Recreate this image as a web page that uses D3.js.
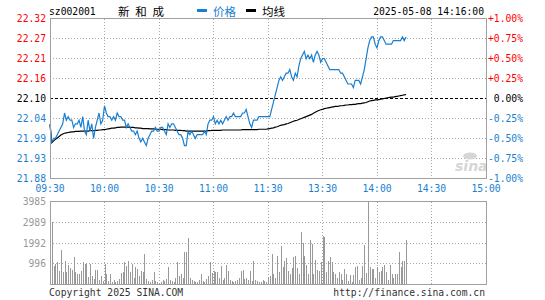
<!DOCTYPE html>
<html><head><meta charset="utf-8">
<script src="https://cdn.jsdelivr.net/npm/d3@7"></script>
<style>
body{margin:0;background:#fff}
svg{display:block}
text{font-family:"DejaVu Sans Mono","Liberation Mono",monospace;font-size:9.7px}
</style>
</head><body><svg id="c" width="545" height="300"></svg>
<script>
const code = "sz002001";
const stockName = "新 和 成";
const stamp = "2025-05-08 14:16:00";
const preClose = 22.10;
const price = [
22.03,21.98,21.99,21.99,22.00,22.01,22.02,22.03,22.06,22.04,
22.05,22.04,22.04,22.02,22.03,22.03,22.04,22.02,22.05,22.01,
22.00,22.04,22.01,22.03,21.99,22.02,22.04,22.06,22.03,22.04,
22.08,22.06,22.05,22.05,22.04,22.05,22.04,22.06,22.05,22.05,
22.04,22.04,22.02,22.03,22.02,22.01,22.01,22.00,22.01,21.99,
21.98,21.99,21.98,21.97,21.99,22.00,22.01,22.01,22.02,22.01,
22.01,22.02,22.02,22.01,22.00,22.03,22.02,22.03,22.03,22.02,
22.01,22.00,22.00,21.99,21.97,21.97,22.01,22.00,22.01,22.00,
21.99,22.00,22.00,22.00,22.00,22.01,22.00,22.03,22.04,22.04,
22.05,22.03,22.04,22.03,22.04,22.03,22.04,22.05,22.04,22.05,
22.05,22.06,22.05,22.05,22.05,22.05,22.06,22.06,22.07,22.05,
22.03,22.02,22.04,22.04,22.04,22.05,22.05,22.05,22.05,22.05,
22.05,22.05,22.07,22.09,22.11,22.13,22.15,22.16,22.15,22.16,
22.17,22.17,22.18,22.16,22.15,22.17,22.16,22.19,22.21,22.22,
22.23,22.21,22.22,22.21,22.22,22.20,22.22,22.23,22.22,22.20,
22.21,22.21,22.20,22.19,22.18,22.18,22.18,22.18,22.18,22.18,
22.17,22.17,22.16,22.15,22.14,22.14,22.14,22.13,22.15,22.15,
22.15,22.14,22.16,22.18,22.21,22.24,22.26,22.27,22.27,22.25,
22.24,22.26,22.27,22.27,22.26,22.25,22.25,22.25,22.25,22.26,
22.26,22.26,22.26,22.26,22.27,22.26,22.27];
const avg = [
22.028,21.978,21.983,21.987,21.991,21.995,21.999,22.002,22.004,22.005,
22.006,22.007,22.008,22.008,22.009,22.009,22.009,22.010,22.010,22.010,
22.010,22.010,22.011,22.011,22.011,22.012,22.012,22.013,22.013,22.014,
22.014,22.015,22.016,22.017,22.018,22.018,22.019,22.020,22.020,22.021,
22.021,22.021,22.021,22.021,22.020,22.020,22.020,22.019,22.019,22.018,
22.018,22.017,22.017,22.017,22.017,22.016,22.016,22.016,22.015,22.015,
22.015,22.015,22.014,22.014,22.014,22.013,22.013,22.013,22.013,22.012,
22.012,22.012,22.012,22.011,22.011,22.010,22.010,22.010,22.010,22.010,
22.010,22.010,22.010,22.010,22.010,22.010,22.010,22.011,22.011,22.012,
22.012,22.012,22.012,22.012,22.012,22.013,22.013,22.013,22.013,22.013,
22.013,22.013,22.013,22.013,22.013,22.013,22.014,22.014,22.014,22.014,
22.014,22.014,22.014,22.014,22.014,22.015,22.015,22.015,22.015,22.015,
22.016,22.017,22.018,22.019,22.021,22.022,22.024,22.026,22.027,22.028,
22.030,22.031,22.033,22.035,22.037,22.039,22.040,22.042,22.044,22.046,
22.048,22.050,22.052,22.054,22.056,22.059,22.062,22.065,22.067,22.069,
22.070,22.072,22.073,22.074,22.075,22.076,22.077,22.078,22.078,22.079,
22.080,22.080,22.081,22.082,22.082,22.083,22.083,22.084,22.084,22.085,
22.086,22.086,22.087,22.088,22.089,22.091,22.093,22.094,22.095,22.096,
22.096,22.097,22.098,22.099,22.100,22.101,22.102,22.103,22.104,22.104,
22.105,22.106,22.107,22.108,22.109,22.110,22.111];
const volume = [
420,3020,880,990,1070,670,1680,590,1150,620,
940,780,720,1310,620,510,500,670,1070,990,
1020,380,990,430,250,720,720,200,430,150,
990,510,150,500,120,200,100,150,250,560,
590,1070,910,1150,620,990,300,830,750,400,
670,590,1470,250,150,120,200,590,150,100,
80,120,200,150,250,830,200,150,100,300,
1100,400,510,300,1580,1550,2220,300,200,150,
120,100,200,510,150,100,250,400,1070,560,
670,620,590,300,910,200,300,940,670,200,
150,100,150,200,300,670,720,250,300,200,
670,150,1140,200,150,100,120,200,150,100,
300,400,1470,510,300,1390,590,1870,830,1150,
1260,670,510,780,1310,1390,780,510,2540,2000,
1390,940,510,2160,1950,510,1200,720,670,1100,
2320,2270,620,1150,1310,1070,590,510,300,590,
510,200,750,510,150,460,100,460,830,910,
200,300,910,1900,560,3985,830,750,750,300,
830,620,670,830,940,590,200,940,510,300,
510,510,1550,830,1150,1150,2160];
const priceLabels = ["22.32","22.27","22.21","22.16","22.10","22.04","21.99","21.93","21.88"];
const pctSteps = [1,0.75,0.5,0.25,0,-0.25,-0.5,-0.75,-1];
const pctLabels = ["+1.00%","+0.75%","+0.50%","+0.25%","0.00%","-0.25%","-0.50%","-0.75%","-1.00%"];
const timeMinutes = [0,30,60,90,120,150,180,210,240];
const timeLabels = ["09:30","10:00","10:30","11:00","11:30","13:30","14:00","14:30","15:00"];
const volTicks = [3985,2989,1992,996];
const volMax = 3985;
const legendNames = ["价格","均线"];

const BLUE = "#1a7fd0", RED = "#ff0000", GRID = "#a8a8a8", BORDER = "#a0a0a0";
const L = 50, R = 486, T = 18.5, B = 178.5, VT = 201.5, VB = 284.5;
const svg = d3.select("#c");
const x = d3.scaleLinear().domain([0, 240]).range([L, R]);
const y = d3.scaleLinear().domain([preClose*0.99, preClose*1.01]).range([B, T]);
const yv = d3.scaleLinear().domain([0, volMax]).range([VB, VT]);

// header
svg.append("text").attr("x", 49).attr("y", 15).attr("fill", "#000").text(code);
svg.append("text").attr("x", 118).attr("y", 16).attr("fill", "#000")
  .style("font-family", "'Noto Sans CJK SC'").style("font-size", "11.5px")
  .style("letter-spacing", "1.6px").attr("xml:space", "preserve").text(stockName);
const lg = [[197, BLUE], [246, "#000"]];
legendNames.forEach((n, i) => {
  svg.append("rect").attr("x", lg[i][0]).attr("y", 9).attr("width", 10).attr("height", 3).attr("fill", lg[i][1]);
  svg.append("text").attr("x", lg[i][0] + 16).attr("y", 16).attr("fill", lg[i][1])
    .style("font-family", "'Noto Sans CJK SC'").style("font-size", "11.5px").text(n);
});
svg.append("text").attr("x", 484).attr("y", 15).attr("text-anchor", "end").attr("fill", "#000").text(stamp);

// grids main
const crisp = g => g.attr("shape-rendering", "crispEdges");
pctSteps.forEach((p, i) => {
  const yy = y(preClose * (1 + p / 100));
  if (i > 0 && i < pctSteps.length - 1) {
    svg.append("line").attr("x1", L).attr("x2", R).attr("y1", yy).attr("y2", yy)
      .attr("stroke", p === 0 ? "#000" : GRID).attr("stroke-dasharray", p === 0 ? "3,2" : "1,2")
      .call(crisp);
  }
  const col = p > 0 ? RED : (p < 0 ? BLUE : "#000");
  svg.append("text").attr("x", 46).attr("y", yy + 3.5).attr("text-anchor", "end").attr("fill", col).text(priceLabels[i]);
  svg.append("text").attr("x", 523).attr("y", yy + 3.5).attr("text-anchor", "end").attr("fill", col).text(pctLabels[i]);
});
timeMinutes.forEach((m, i) => {
  const xx = x(m);
  if (i > 0 && i < timeMinutes.length - 1) {
    [[T, B], [VT, VB]].forEach(([a, b]) =>
      svg.append("line").attr("x1", xx).attr("x2", xx).attr("y1", a).attr("y2", b)
        .attr("stroke", GRID).attr("stroke-dasharray", "1,2").call(crisp));
  }
  svg.append("text").attr("x", xx).attr("y", 192).attr("text-anchor", "middle").attr("fill", BLUE).text(timeLabels[i]);
});
volTicks.forEach((v, i) => {
  const yy = yv(v);
  if (i > 0) svg.append("line").attr("x1", L).attr("x2", R).attr("y1", yy).attr("y2", yy)
    .attr("stroke", GRID).attr("stroke-dasharray", "1,2").call(crisp);
  svg.append("text").attr("x", 46).attr("y", yy + 3.5).attr("text-anchor", "end").attr("fill", "#999").text(v);
});

// watermark
const wm = svg.append("g").attr("fill", "#d6d6d6");
wm.append("text").attr("x", 455).attr("y", 171).style("font-family", "'DejaVu Sans'").style("font-size", "14px")
  .style("font-style", "italic").style("font-weight", "bold").text("sina");
wm.append("ellipse").attr("cx", 470).attr("cy", 156).attr("rx", 7).attr("ry", 3.5);

// volume bars
svg.append("g").selectAll("rect").data(volume).join("rect")
  .attr("x", (d, i) => Math.round(x(i)) - 0.5).attr("width", 1)
  .attr("y", d => yv(d)).attr("height", d => VB - yv(d)).attr("fill", "#999").call(crisp);

// lines
const line = d3.line().x((d, i) => x(i)).y(d => y(d));
svg.append("path").datum(avg).attr("d", line).attr("fill", "none").attr("stroke", "#000").attr("stroke-width", 1.2);
svg.append("path").datum(price).attr("d", line).attr("fill", "none").attr("stroke", BLUE).attr("stroke-width", 1.2);

// borders
svg.append("rect").attr("x", L).attr("y", T).attr("width", R - L).attr("height", B - T)
  .attr("fill", "none").attr("stroke", BORDER).call(crisp);
svg.append("rect").attr("x", L).attr("y", VT).attr("width", R - L).attr("height", VB - VT)
  .attr("fill", "none").attr("stroke", BORDER).call(crisp);

// footer
svg.append("text").attr("x", 49).attr("y", 296).attr("fill", "#333").text("Copyright 2025 SINA.COM");
svg.append("text").attr("x", 485).attr("y", 296).attr("text-anchor", "end").attr("fill", "#333").text("http://finance.sina.com.cn");
</script></body></html>
